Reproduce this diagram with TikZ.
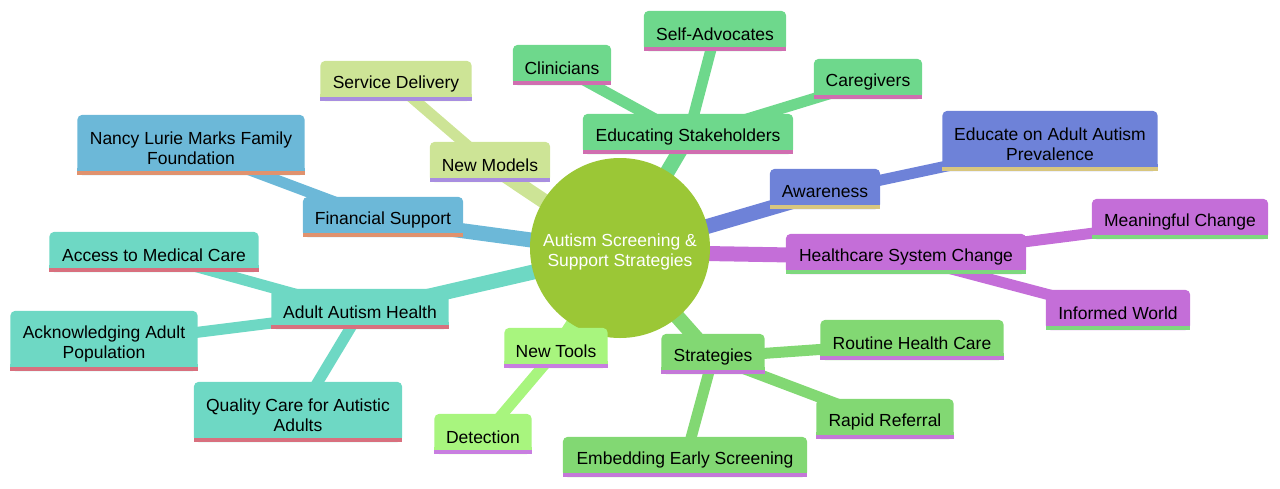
\documentclass[tikz,border=0pt]{standalone}
\usepackage{fontspec}
\setmainfont{Liberation Sans}
\usetikzlibrary{backgrounds}

\definecolor{rootc}{RGB}{155,199,54}
\definecolor{educ}{RGB}{110,216,140}
\definecolor{eduline}{RGB}{208,110,176}
\definecolor{modc}{RGB}{205,228,150}
\definecolor{modline}{RGB}{168,142,224}
\definecolor{finc}{RGB}{108,184,216}
\definecolor{finline}{RGB}{224,146,110}
\definecolor{adultc}{RGB}{110,216,196}
\definecolor{adultline}{RGB}{216,112,126}
\definecolor{toolc}{RGB}{168,245,126}
\definecolor{toolline}{RGB}{200,126,224}
\definecolor{stratc}{RGB}{130,216,115}
\definecolor{stratline}{RGB}{196,120,216}
\definecolor{awarec}{RGB}{110,130,216}
\definecolor{awareline}{RGB}{216,198,126}
\definecolor{hsysc}{RGB}{196,110,216}
\definecolor{hsysline}{RGB}{126,216,126}

\tikzset{
  box/.style 2 args={inner xsep=8pt, inner ysep=4pt, minimum height=40pt,
    align=center, font=\fontsize{17.5}{20}\selectfont, yshift=-3pt,
    append after command={\pgfextra{
      \fill[#1, rounded corners=5pt] ([yshift=3pt]\tikzlastnode.south west) rectangle ([yshift=3pt]\tikzlastnode.north east);
      \fill[#1] ([yshift=3pt]\tikzlastnode.south west) rectangle ([yshift=10pt]\tikzlastnode.south east);
      \fill[#2] ([yshift=3pt]\tikzlastnode.south west) rectangle ([yshift=7pt]\tikzlastnode.south east);}}},
  edubox/.style={box={educ}{eduline}},
  modbox/.style={box={modc}{modline}},
  finbox/.style={box={finc}{finline}},
  adultbox/.style={box={adultc}{adultline}},
  toolbox/.style={box={toolc}{toolline}},
  stratbox/.style={box={stratc}{stratline}},
  awarebox/.style={box={awarec}{awareline}},
  hsysbox/.style={box={hsysc}{hsysline}},
  tall/.style={minimum height=60pt},
  lvlone/.style={line width=15pt},
  lvltwo/.style={line width=11pt}
}

\begin{document}
\begin{tikzpicture}[x=1pt, y=-1pt]
  \useasboundingbox (0,0) rectangle (1280,488);

  \node (root) [circle, minimum size=180pt, text=white, align=center, font=\fontsize{17.5}{20}\selectfont, yshift=-4pt,
    append after command={\pgfextra{\fill[rootc] ([yshift=4pt]\tikzlastnode.center) circle[radius=90pt];}}] at (620,248) {Autism Screening \&\\Support Strategies};

  \node (edu) [edubox, minimum width=210pt] at (688,134) {Educating Stakeholders};
  \node (clin) [edubox, minimum width=98pt] at (562,65) {Clinicians};
  \node (self) [edubox, minimum width=142pt] at (715,31) {Self-Advocates};
  \node (care) [edubox, minimum width=108pt] at (868,79) {Caregivers};

  \node (newmod) [modbox, minimum width=120pt] at (490,162) {New Models};
  \node (serv) [modbox, minimum width=151pt] at (396,81) {Service Delivery};

  \node (fin) [finbox, minimum width=160pt] at (383,217) {Financial Support};
  \node (nancy) [finbox, tall, minimum width=227pt] at (191,145) {Nancy Lurie Marks Family\\Foundation};

  \node (adult) [adultbox, minimum width=177pt] at (360,309) {Adult Autism Health};
  \node (access) [adultbox, minimum width=209pt] at (154,252) {Access to Medical Care};
  \node (ackn) [adultbox, tall, minimum width=187pt] at (104,341) {Acknowledging Adult\\Population};
  \node (qual) [adultbox, tall, minimum width=208pt] at (298,412) {Quality Care for Autistic\\Adults};

  \node (tools) [toolbox, minimum width=103pt] at (556,348) {New Tools};
  \node (detect) [toolbox, minimum width=97pt] at (483,434) {Detection};

  \node (strat) [stratbox, minimum width=103pt] at (713,354) {Strategies};
  \node (routine) [stratbox, minimum width=183pt] at (912,340) {Routine Health Care};
  \node (rapid) [stratbox, minimum width=137pt] at (885,419) {Rapid Referral};
  \node (embed) [stratbox, minimum width=244pt] at (685,457) {Embedding Early Screening};

  \node (aware) [awarebox, minimum width=110pt] at (825,189) {Awareness};
  \node (prev) [awarebox, tall, minimum width=215pt] at (1050,141) {Educate on Adult Autism\\Prevalence};

  \node (hsys) [hsysbox, minimum width=240pt] at (906,254) {Healthcare System Change};
  \node (mean) [hsysbox, minimum width=176pt] at (1180,219) {Meaningful Change};
  \node (inform) [hsysbox, minimum width=144pt] at (1118,310) {Informed World};

  \begin{scope}[on background layer]
    \draw [lvlone, educ] (root.center) -- (edu.center);
    \draw [lvltwo, educ] (edu.center) -- (clin.center);
    \draw [lvltwo, educ] (edu.center) -- (self.center);
    \draw [lvltwo, educ] (edu.center) -- (care.center);
    \draw [lvlone, modc] (root.center) -- (newmod.center);
    \draw [lvltwo, modc] (newmod.center) -- (serv.center);
    \draw [lvlone, finc] (root.center) -- (fin.center);
    \draw [lvltwo, finc] (fin.center) -- (nancy.center);
    \draw [lvlone, adultc] (root.center) -- (adult.center);
    \draw [lvltwo, adultc] (adult.center) -- (access.center);
    \draw [lvltwo, adultc] (adult.center) -- (ackn.center);
    \draw [lvltwo, adultc] (adult.center) -- (qual.center);
    \draw [lvlone, toolc] (root.center) -- (tools.center);
    \draw [lvltwo, toolc] (tools.center) -- (detect.center);
    \draw [lvlone, stratc] (root.center) -- (strat.center);
    \draw [lvltwo, stratc] (strat.center) -- (routine.center);
    \draw [lvltwo, stratc] (strat.center) -- (rapid.center);
    \draw [lvltwo, stratc] (strat.center) -- (embed.center);
    \draw [lvlone, awarec] (root.center) -- (aware.center);
    \draw [lvltwo, awarec] (aware.center) -- (prev.center);
    \draw [lvlone, hsysc] (root.center) -- (hsys.center);
    \draw [lvltwo, hsysc] (hsys.center) -- (mean.center);
    \draw [lvltwo, hsysc] (hsys.center) -- (inform.center);
  \end{scope}
\end{tikzpicture}
\end{document}
